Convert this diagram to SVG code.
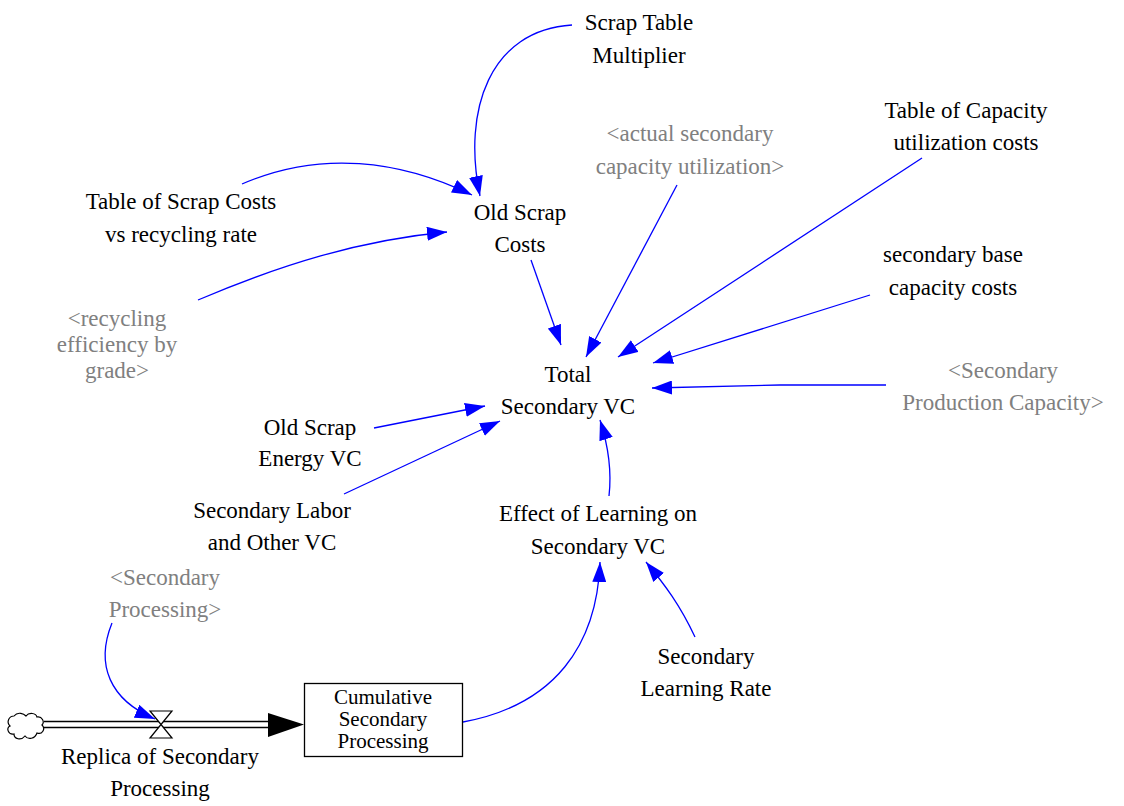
<svg xmlns="http://www.w3.org/2000/svg" width="1124" height="806" viewBox="0 0 1124 806">
<style>
text{font-family:"Liberation Serif","Times New Roman","DejaVu Serif",serif;font-size:23px;fill:#000;text-anchor:middle}
text.g{fill:#808080}
text.s{font-size:21px}
.c{fill:none;stroke:#0000ff;stroke-width:1.3}
.h{fill:#0000ff}
</style>
<defs>
<marker id="a" viewBox="0 0 20 14" refX="20" refY="7" markerWidth="20" markerHeight="14" markerUnits="userSpaceOnUse" orient="auto">
<path class="h" d="M0,0 L20,7 L0,14 Z"/>
</marker>
</defs>
<rect width="1124" height="806" fill="#fff"/>
<g id="connectors">
<path class="c" marker-end="url(#a)" d="M572,25 C490,30 462,110 480,196"/>
<path class="c" marker-end="url(#a)" d="M242,184 C320,150 400,160 472,195"/>
<path class="c" marker-end="url(#a)" d="M198,300 C280,265 360,240 447,232"/>
<path class="c" marker-end="url(#a)" d="M531,260 L561,345"/>
<path class="c" marker-end="url(#a)" d="M677,185 L586,357"/>
<path class="c" marker-end="url(#a)" d="M922,158 L618,357"/>
<path class="c" marker-end="url(#a)" d="M870,295 L653,363"/>
<path class="c" marker-end="url(#a)" d="M886,385 L780,385 L652,388"/>
<path class="c" marker-end="url(#a)" d="M374,428 L485,406"/>
<path class="c" marker-end="url(#a)" d="M344,494 L500,421"/>
<path class="c" marker-end="url(#a)" d="M609,496 C612,470 608,445 600,420"/>
<path class="c" marker-end="url(#a)" d="M463,722 C555,705 597,645 600,562"/>
<path class="c" marker-end="url(#a)" d="M695,637 C680,605 665,585 646,562"/>
<path class="c" marker-end="url(#a)" d="M112,623 C95,665 110,700 155,719"/>
</g>
<g id="flow">
<line x1="44" y1="721.5" x2="272" y2="721.5" stroke="#000" stroke-width="1.5"/>
<line x1="44" y1="727.5" x2="272" y2="727.5" stroke="#000" stroke-width="1.5"/>
<path d="M268,713 L304,724.5 L268,737 Z" fill="#000"/>
<path d="M150,711 L172,711 L150,738 L172,738 Z" fill="#fff" stroke="#000" stroke-width="1.2"/>
</g>
<g id="cloud">
<path d="M14,716 C18,711 24,714 26,716 C29,712 36,713 37,717 C42,716 45,722 42,725 C46,729 42,735 37,733 C35,739 28,740 25,736 C21,741 14,739 14,734 C8,735 6,728 10,726 C6,722 9,716 14,716 Z" fill="#fff" stroke="#000" stroke-width="1.2"/>
</g>
<g id="stock">
<rect x="304.5" y="683.5" width="158" height="73" fill="#fff" stroke="#000" stroke-width="1.3"/>
<text class="s" x="383" y="704">Cumulative</text>
<text class="s" x="383" y="726">Secondary</text>
<text class="s" x="383" y="748">Processing</text>
</g>
<g id="scrap-table-multiplier"><text x="639" y="30">Scrap Table</text><text x="639" y="63">Multiplier</text></g>
<g id="actual-secondary"><text class="g" x="690" y="141">&lt;actual secondary</text><text class="g" x="690" y="174">capacity utilization&gt;</text></g>
<g id="table-capacity"><text x="966" y="118">Table of Capacity</text><text x="966" y="150">utilization costs</text></g>
<g id="old-scrap-costs"><text x="520" y="220">Old Scrap</text><text x="520" y="252">Costs</text></g>
<g id="table-scrap-costs"><text x="181" y="209">Table of Scrap Costs</text><text x="181" y="242">vs recycling rate</text></g>
<g id="recycling-efficiency"><text class="g" x="117" y="326">&lt;recycling</text><text class="g" x="117" y="352">efficiency by</text><text class="g" x="117" y="378">grade&gt;</text></g>
<g id="secondary-base"><text x="953" y="262">secondary base</text><text x="953" y="295">capacity costs</text></g>
<g id="total-secondary-vc"><text x="568" y="382">Total</text><text x="568" y="414">Secondary VC</text></g>
<g id="secondary-production-capacity"><text class="g" x="1003" y="378">&lt;Secondary</text><text class="g" x="1003" y="410">Production Capacity&gt;</text></g>
<g id="old-scrap-energy"><text x="310" y="435">Old Scrap</text><text x="310" y="466">Energy VC</text></g>
<g id="secondary-labor"><text x="272" y="518">Secondary Labor</text><text x="272" y="550">and Other VC</text></g>
<g id="effect-learning"><text x="598" y="521">Effect of Learning on</text><text x="598" y="554">Secondary VC</text></g>
<g id="secondary-processing"><text class="g" x="165" y="585">&lt;Secondary</text><text class="g" x="165" y="617">Processing&gt;</text></g>
<g id="secondary-learning-rate"><text x="706" y="664">Secondary</text><text x="706" y="696">Learning Rate</text></g>
<g id="replica"><text x="160" y="764">Replica of Secondary</text><text x="160" y="796">Processing</text></g>
</svg>
